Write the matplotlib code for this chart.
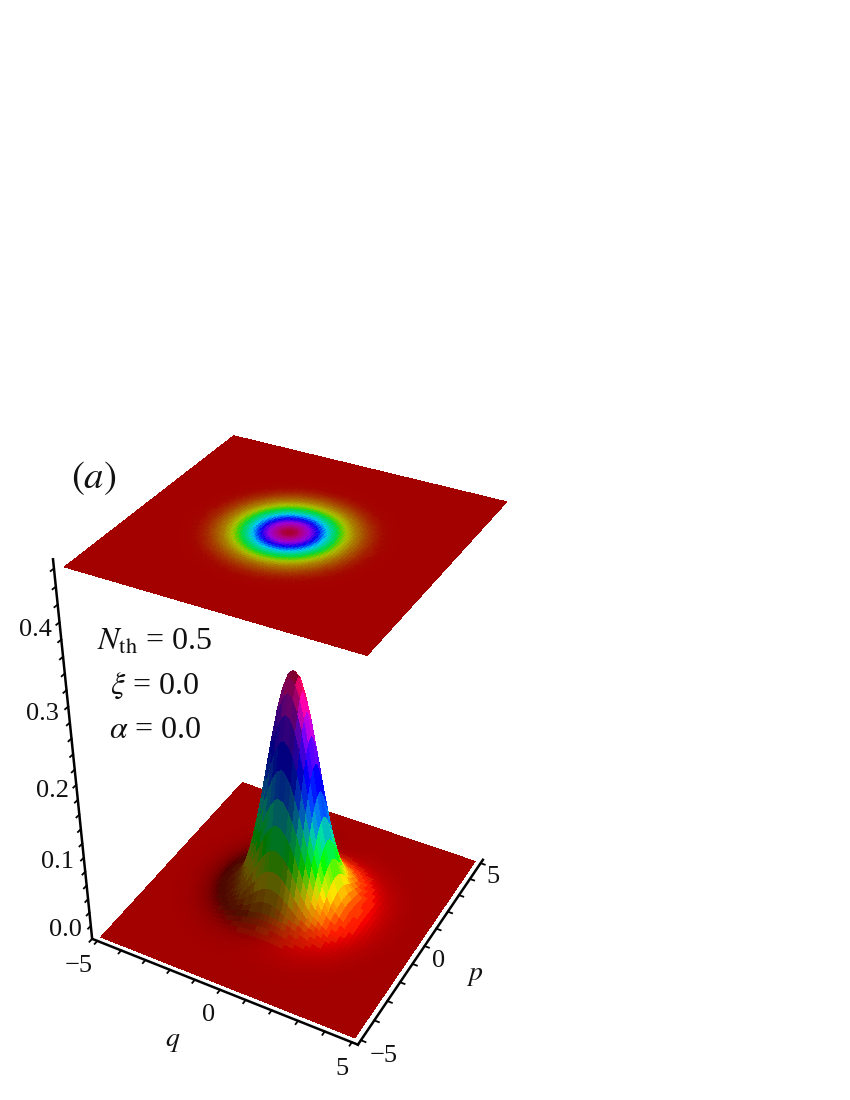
import numpy as np, matplotlib
matplotlib.use('Agg')
import matplotlib.pyplot as plt
from matplotlib.colors import LinearSegmentedColormap
from mpl_toolkits.mplot3d import proj3d

# values
radius = [0, 0.25, 0.5, 0.75, 1.0, 1.25, 1.5, 1.75, 2.0, 2.5, 3.0, 3.5, 4.0, 5.0, 7.5]
wigner = [0.318, 0.306, 0.272, 0.224, 0.170, 0.120, 0.078, 0.047, 0.027, 0.011, 0.0035, 0.001, 0.0002, 0.000002, 0.000002]
q_ticks = [-5, -4, -3, -2, -1, 0, 1, 2, 3, 4, 5]
p_ticks = [-5, -4, -3, -2, -1, 0, 1, 2, 3, 4, 5]
z_ticks = [0.0, 0.02, 0.04, 0.06, 0.08, 0.1, 0.12, 0.14, 0.16, 0.18, 0.2, 0.22, 0.24, 0.26, 0.28, 0.3,
           0.32, 0.34, 0.36, 0.38, 0.4, 0.42, 0.44, 0.46, 0.48]
q_labels = {-5: '\u22125', 0: '0', 5: '5'}
p_labels = {-5: '\u22125', 0: '0', 5: '5'}
z_labels = {0.0: '0.0', 0.1: '0.1', 0.2: '0.2', 0.3: '0.3', 0.4: '0.4'}
projection_level = 0.48
projection_centre = (-0.15, -0.08)
annotations = [r'$N_{\mathrm{th}}$ = 0.5', r'$\xi$ = 0.0', r'$\alpha$ = 0.0']

plt.rcParams['font.family'] = ['Liberation Serif', 'DejaVu Serif']
plt.rcParams['mathtext.fontset'] = 'stix'

W, H = 850, 1100
fig = plt.figure(figsize=(W/100, H/100), dpi=100)
size = 623.6
ax = fig.add_axes([-27.12/W, 52.65/H, size/W, size/H], projection='3d', computed_zorder=False)
lim = 5.22
ax.set_xlim(-lim, lim, view_margin=0)
ax.set_ylim(-lim, lim, view_margin=0)
ax.set_zlim(0, 0.49, view_margin=0)
ax.view_init(36.13, -61.569, 0.058)
ax.set_proj_type('persp', focal_length=np.exp(-0.7496))
box = np.array([lim/5.3, lim/5.3, 1.448])
ax.set_box_aspect(box, zoom=np.linalg.norm(box)/np.linalg.norm([1, 1, 1.448]))
ax.patch.set_alpha(0)

def surface(n, centre=(0, 0)):
    g = np.linspace(-5, 5, n)
    Q, P = np.meshgrid(g, g)
    R = np.hypot(Q-centre[0], P-centre[1])
    Z = np.exp(np.interp(R**2, np.array(radius)**2, np.log(wigner)))
    return Q, P, Z

bottom_cmap = LinearSegmentedColormap.from_list('hue_low', [
    (0.0, (1, 0, 0)), (0.03, (1, 0.2, 0)), (0.07, (1, 0.5, 0)), (0.14, (1, 0.85, 0)),
    (0.2, (0.6, 0.9, 0)), (0.27, (0, 0.95, 0)), (0.38, (0, 0.85, 0.6)), (0.5, (0, 0.4, 0.95)),
    (0.63, (0, 0, 1)), (0.79, (0.5, 0, 0.95)), (0.9, (1, 0, 0.75)), (1.0, (1, 0, 0.2))])
top_cmap = LinearSegmentedColormap.from_list('hue_top', [
    (0.0, '#a30000'), (0.01, '#a30500'), (0.03, '#a52800'), (0.06, '#a86000'), (0.1, '#aa9800'),
    (0.144, '#a8c000'), (0.2, '#50d000'), (0.26, '#00d840'), (0.36, '#00d0a0'), (0.44, '#00c8f0'),
    (0.53, '#0060fa'), (0.63, '#1000f0'), (0.79, '#9a00dc'), (0.93, '#b00080'), (1.0, '#a80030')])

# lower surface
Q, P, Z = surface(61)
peak = max(wigner)
dz_dp, dz_dq = np.gradient(Z, Q[0, 1]-Q[0, 0])
zs = 1.448/0.49 * 10.6
nx, ny, nz = -dz_dq*zs, -dz_dp*zs, np.ones_like(Z)
norm = np.sqrt(nx**2+ny**2+nz**2)
side = (nx*0.88 + ny*0.48)/norm
front = (nx*0.48 - ny*0.88)/norm
steep = np.hypot(nx, ny)/norm
levels = np.floor(Z/peak*60)/60
floor = 0.3 + 0.2*np.clip(levels/0.3, 0, 1)
shade = np.clip(0.64 + 0.8*side + 0.6*front*(1-steep), floor, 1.05)
colors = bottom_cmap(levels)
colors[..., :3] = np.clip(colors[..., :3]*shade[..., None], 0, 1)
ax.plot_surface(Q, P, Z, facecolors=colors, rstride=1, cstride=1, shade=False,
                linewidth=0, antialiased=False, zorder=1)

# projection plane
Q2, P2, Z2 = surface(101, projection_centre)
ax.plot_surface(Q2, P2, np.full_like(Z2, projection_level), facecolors=top_cmap(Z2/peak),
                rstride=1, cstride=1, shade=False, linewidth=0,
                antialiased=False, zorder=2)

# axes
for axis, ticks in ((ax.xaxis, q_ticks), (ax.yaxis, p_ticks), (ax.zaxis, z_ticks)):
    axis.set_pane_color((1, 1, 1, 0))
    axis.pane.set_edgecolor((1, 1, 1, 0))
    axis.line.set_color('k')
    axis.line.set_linewidth(1.8)
    axis.set_ticks(ticks)
    axis.set_ticklabels(['' for t in ticks])
    axis._axinfo['tick']['inward_factor'] = 0.2
    axis._axinfo['tick']['outward_factor'] = 0.0
    axis._axinfo['tick']['linewidth'] = {True: 1.3, False: 1.0}
    axis._axinfo['tick']['color'] = 'k'
ax.grid(False)
ax.zaxis.set_ticks_position('lower')

# tick labels anchored on the projected tick positions
M = ax.get_proj()
def tick_label(x, y, z, s, off):
    X, Y, _ = proj3d.proj_transform(x, y, z, M)
    ax.annotate(s, xy=(float(X), float(Y)), xycoords='data', xytext=off, textcoords='offset pixels',
                ha='center', va='center', fontsize=19, color='#111111', annotation_clip=False)
q_off = {-5: (-19, -25), 0: (-12, -25), 5: (-10, -27)}
p_off = {-5: (23, -16), 0: (14, -15), 5: (12, -14)}
z_off = {0.0: (-27, 9), 0.1: (-28, 10), 0.2: (-25, 9), 0.3: (-27, 9), 0.4: (-26, 10)}
for t, s in q_labels.items():
    tick_label(t, -lim, 0, s, q_off[t])
for t, s in p_labels.items():
    tick_label(lim, t, 0, s, p_off[t])
for t, s in z_labels.items():
    tick_label(-lim, -lim, t, s, z_off[t])

def T(x, y, s, **kw):
    fig.text(x/W, 1-y/H, s, ha='center', va='center', color='#111111', **kw)
T(94, 478, r'$(a)$', fontsize=28)
for s, y in zip(annotations, (642, 686, 730)):
    T(155, y, s, fontsize=23)
T(173, 1041, r'$q$', fontsize=20)
T(475, 975, r'$p$', fontsize=20)
fig.savefig('out.png', dpi=100)
